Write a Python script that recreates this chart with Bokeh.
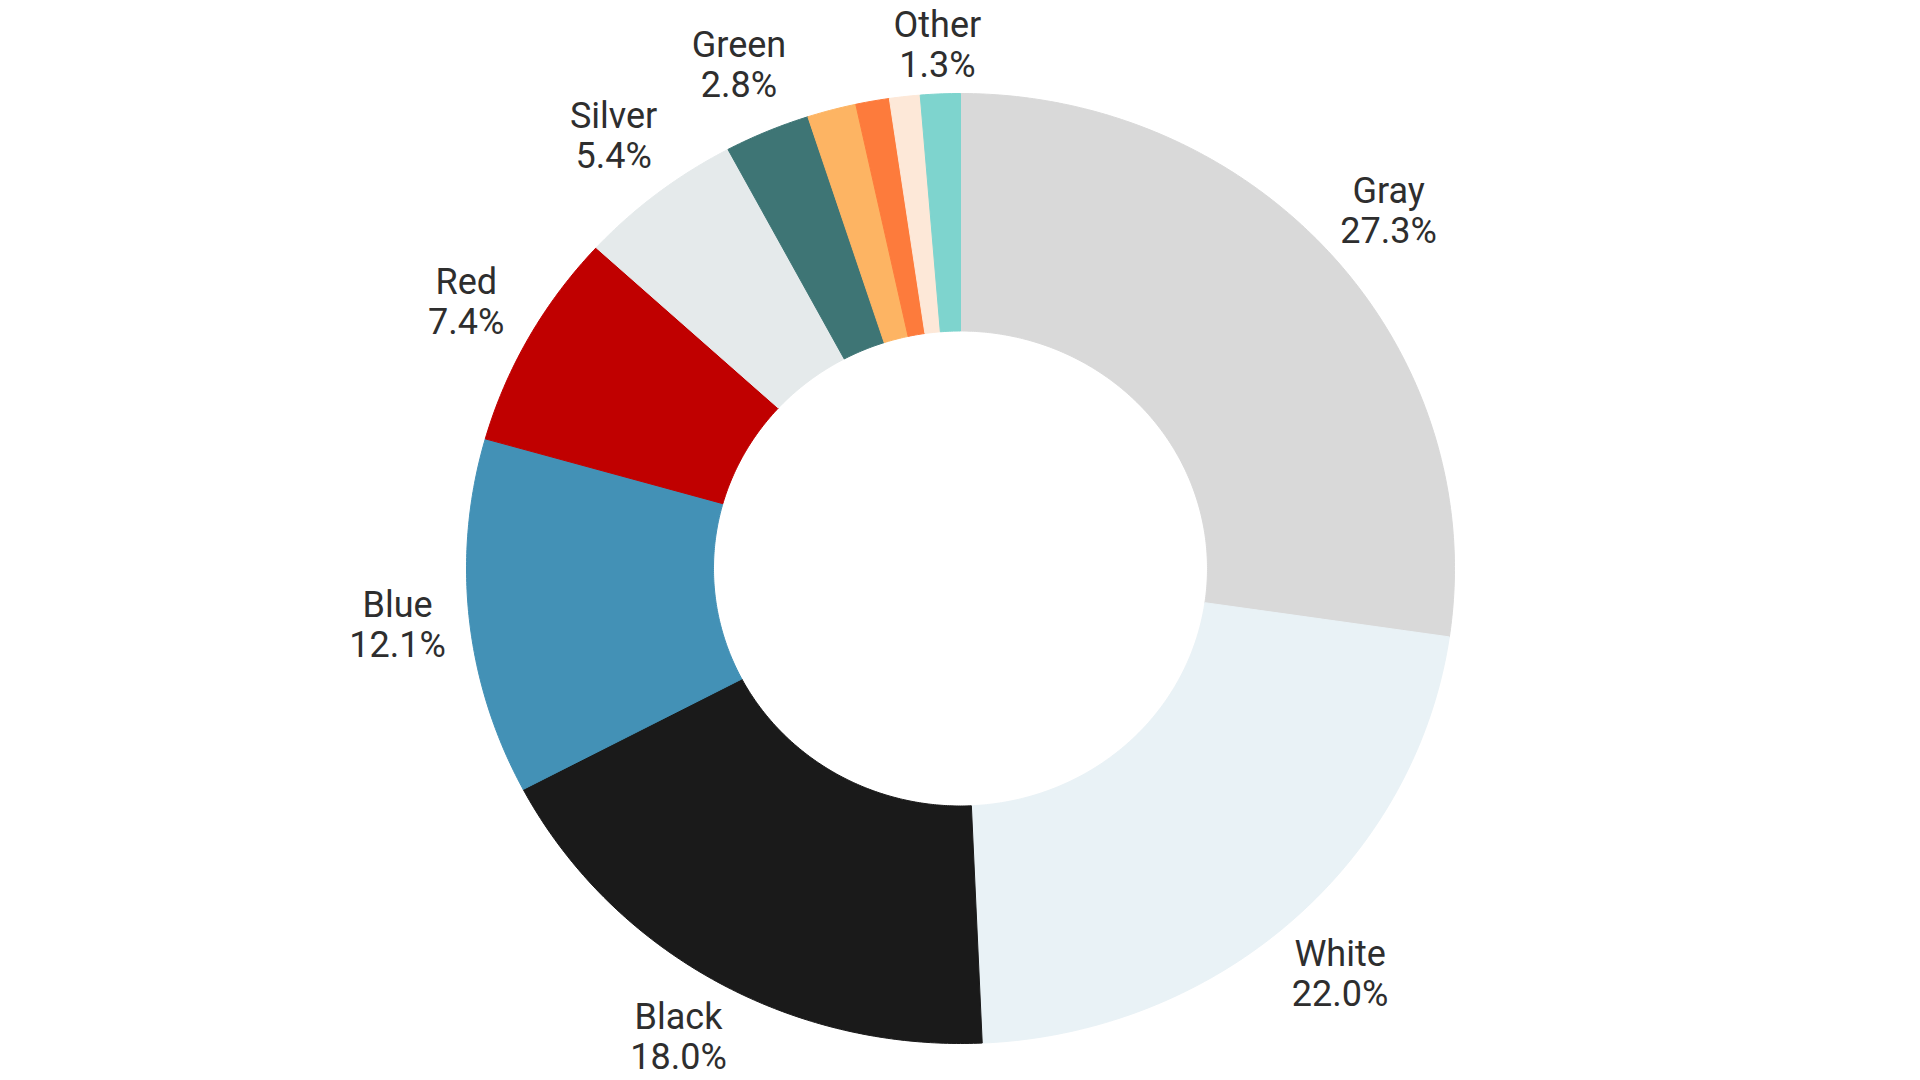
import math
from bokeh.plotting import figure
from bokeh.models import Range1d, ColumnDataSource
from bokeh.embed import file_html
from bokeh.resources import INLINE
from bokeh.core.properties import value

# ---- data ----
categories = ["Gray", "White", "Black", "Blue", "Red", "Silver", "Green",
              "Yellow", "Orange", "Beige", "Other"]
shares = [27.3, 22.0, 18.0, 12.1, 7.4, 5.4, 2.8, 1.6, 1.1, 1.0, 1.3]
show_label = [True, True, True, True, True, True, True, False, False, False, True]
colors = ["#d9d9d9", "#e9f2f6", "#1a1a1a", "#4391b6", "#c00000", "#e5eaeb",
          "#3e7575", "#fdb463", "#fd7b3c", "#fde8d8", "#7ed4ce"]

# ---- layout (pixel space of the page) ----
W, H = 1920, 1080
CX, CY = 960, 568          # donut centre
RX, RY = 494, 475          # outer radii
HOLE = 0.5                 # inner / outer
FS = 36                    # label font size (px)
OFF = 72                   # label distance beyond ring
EDGE = 44                  # min distance of label centre from top/bottom edge

p = figure(width=W, height=H, x_range=Range1d(0, W), y_range=Range1d(H, 0),
           output_backend="svg", toolbar_location=None, min_border=0,
           background_fill_color="white", border_fill_color="white")
p.axis.visible = False
p.grid.visible = False
p.outline_line_color = None

total = sum(shares)
xs, ys = [], []
mids = []
cum = 0.0
for s in shares:
    a0 = cum / total * 2 * math.pi
    cum += s
    a1 = cum / total * 2 * math.pi
    mids.append((a0 + a1) / 2)
    n = max(4, int((a1 - a0) / (math.pi / 360)))
    angs = [a0 + (a1 - a0) * i / n for i in range(n + 1)]
    ox = [CX + RX * math.sin(a) for a in angs]
    oy = [CY - RY * math.cos(a) for a in angs]
    ix = [CX + RX * HOLE * math.sin(a) for a in reversed(angs)]
    iy = [CY - RY * HOLE * math.cos(a) for a in reversed(angs)]
    xs.append(ox + ix)
    ys.append(oy + iy)

src = ColumnDataSource(dict(xs=xs, ys=ys, color=colors, cat=categories))
p.patches("xs", "ys", source=src, fill_color="color", line_color="color", line_width=1)

# ---- labels ----
lx, ly, names, pcts = [], [], [], []
for cat, s, show, a in zip(categories, shares, show_label, mids):
    if not show:
        continue
    x = CX + (RX + OFF) * math.sin(a)
    y = CY - (RY + OFF) * math.cos(a)
    y = min(max(y, EDGE), H - EDGE)
    lx.append(x)
    ly.append(y)
    names.append(cat)
    pcts.append(f"{s:.1f}%")

lsrc = ColumnDataSource(dict(x=lx, y=ly, name=names, pct=pcts))
common = dict(source=lsrc, text_font=value("Roboto"), text_font_size=f"{FS}px",
              text_color="#2e2e2e", text_align="center", text_baseline="middle")
p.text(x="x", y="y", text="name", y_offset=-20, **common)
p.text(x="x", y="y", text="pct", y_offset=20, **common)

open("out.html", "w").write(file_html(p, INLINE))
